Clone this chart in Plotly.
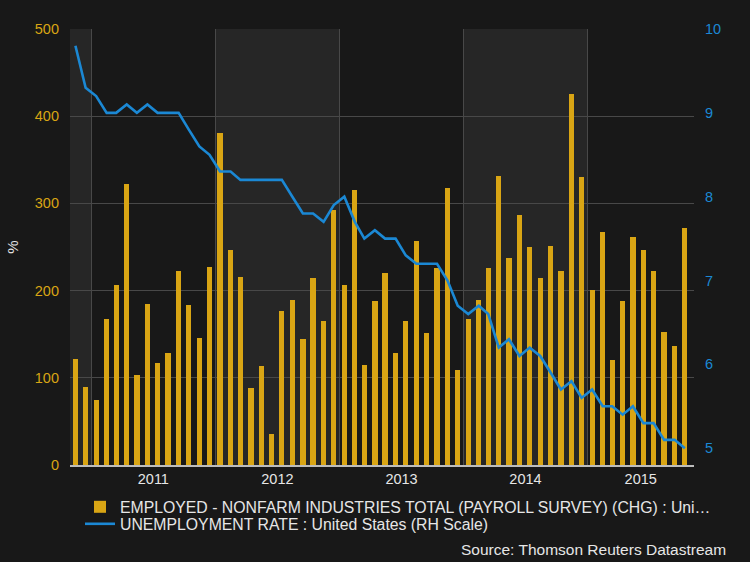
import pandas as pd
import plotly.graph_objects as go

# ---- data ----
months = pd.date_range("2010-11-01", periods=60, freq="MS")
payroll_chg = [122, 90, 75, 168, 207, 322, 103, 185, 117, 129, 223, 184,
               146, 227, 381, 247, 216, 88, 114, 36, 177, 189, 145, 214,
               165, 293, 206, 315, 115, 188, 220, 128, 165, 257, 151, 226,
               318, 109, 167, 189, 226, 331, 237, 287, 250, 214, 251, 222,
               425, 330, 201, 267, 120, 188, 261, 246, 223, 153, 137, 272]
unemployment = [9.8, 9.3, 9.2, 9.0, 9.0, 9.1, 9.0, 9.1, 9.0, 9.0, 9.0, 8.8,
                8.6, 8.5, 8.3, 8.3, 8.2, 8.2, 8.2, 8.2, 8.2, 8.0, 7.8, 7.8,
                7.7, 7.9, 8.0, 7.7, 7.5, 7.6, 7.5, 7.5, 7.3, 7.2, 7.2, 7.2,
                7.0, 6.7, 6.6, 6.7, 6.6, 6.2, 6.3, 6.1, 6.2, 6.1, 5.9, 5.7,
                5.8, 5.6, 5.7, 5.5, 5.5, 5.4, 5.5, 5.3, 5.3, 5.1, 5.1, 5.0]
year_labels = ["2011", "2012", "2013", "2014", "2015"]
left_ticks = [0, 100, 200, 300, 400, 500]
right_ticks = [5, 6, 7, 8, 9, 10]

bar_name = "EMPLOYED - NONFARM INDUSTRIES TOTAL (PAYROLL SURVEY) (CHG) : Uni\u2026"
line_name = "UNEMPLOYMENT RATE : United States (RH Scale)"

# ---- styling ----
BG = "#181818"
BAND = "#262626"
GRID = "#484848"
GOLD = "#D9A514"
BLUE = "#1B88D4"
TXT = "#E6E6E6"
FONT = "Liberation Sans, Arial, sans-serif"

x_start = pd.Timestamp("2010-10-30")
x_end = pd.Timestamp("2015-11-11")
xdates = months + pd.Timedelta(days=14)

# year label positions: centre of the visible part of each year
tickpos = []
for lab in year_labels:
    y0 = max(pd.Timestamp(f"{lab}-01-01"), x_start)
    y1 = min(pd.Timestamp(f"{int(lab)+1}-01-01"), x_end)
    tickpos.append(y0 + (y1 - y0) / 2)

fig = go.Figure()
fig.add_trace(go.Bar(
    x=xdates, y=payroll_chg, name=bar_name, marker=dict(color=GOLD, line=dict(width=0)),
    width=15.5 * 86400000, legend="legend", yaxis="y"))
fig.add_trace(go.Scatter(
    x=xdates, y=unemployment, name=line_name, mode="lines",
    line=dict(color=BLUE, width=2.6), legend="legend2", yaxis="y2"))

# alternating shaded year bands
shapes = []
for a, b in [(x_start, pd.Timestamp("2011-01-01")),
             (pd.Timestamp("2012-01-01"), pd.Timestamp("2013-01-01")),
             (pd.Timestamp("2014-01-01"), pd.Timestamp("2015-01-01"))]:
    shapes.append(dict(type="rect", xref="x", yref="paper", x0=a, x1=b, y0=0, y1=1,
                       fillcolor=BAND, line=dict(width=0), layer="below"))

fig.update_layout(
    width=750, height=562,
    margin=dict(l=70, r=56, t=29, b=97, autoexpand=False),
    paper_bgcolor=BG, plot_bgcolor=BG,
    font=dict(family=FONT, color=TXT, size=14),
    bargap=0,
    shapes=shapes,
    showlegend=True,
    xaxis=dict(
        type="date", range=[x_start, x_end],
        tickvals=tickpos, ticktext=year_labels, ticks="",
        showgrid=False, zeroline=False,
        showline=True, linecolor="#BDBDBD", linewidth=1.5,
        tickfont=dict(size=14.5, color=TXT),
        minor=dict(dtick="M12", tick0="2011-01-01", showgrid=True,
                   gridcolor=GRID, gridwidth=1, ticks=""),
    ),
    yaxis=dict(
        range=[0, 500], tickvals=left_ticks, showgrid=True, gridcolor=GRID, gridwidth=1,
        zeroline=False, ticks="", tickfont=dict(size=14.5, color=GOLD),
        ticklabelstandoff=10,
        title=dict(text="%", font=dict(size=15, color=TXT), standoff=12),
        automargin=False,
    ),
    yaxis2=dict(
        range=[4.8, 10], tickvals=right_ticks, overlaying="y", side="right",
        showgrid=False, zeroline=False, ticks="", tickfont=dict(size=14.5, color=BLUE),
        ticklabelstandoff=10, automargin=False,
    ),
    legend=dict(x=0.016, xanchor="left", y=-0.0964, yanchor="middle",
                bgcolor="rgba(0,0,0,0)", font=dict(size=15.8, color=TXT, family=FONT)),
    legend2=dict(x=0.016, xanchor="left", y=-0.1354, yanchor="middle",
                 bgcolor="rgba(0,0,0,0)", font=dict(size=15.8, color=TXT, family=FONT)),
    annotations=[dict(text="Source: Thomson Reuters Datastream", xref="paper", yref="paper",
                      x=1.0545, y=-0.1928, xanchor="right", yanchor="middle",
                      showarrow=False, font=dict(size=15.5, color=TXT))],
)

fig.write_html("out.html", config={"displayModeBar": False})

# remove the default page margin so the figure sits at the window's top-left corner
with open("out.html", "r", encoding="utf-8") as f:
    html = f.read()
html = html.replace("<body>", '<body style="margin:0;padding:0;background:#181818;overflow:hidden">', 1)
with open("out.html", "w", encoding="utf-8") as f:
    f.write(html)
